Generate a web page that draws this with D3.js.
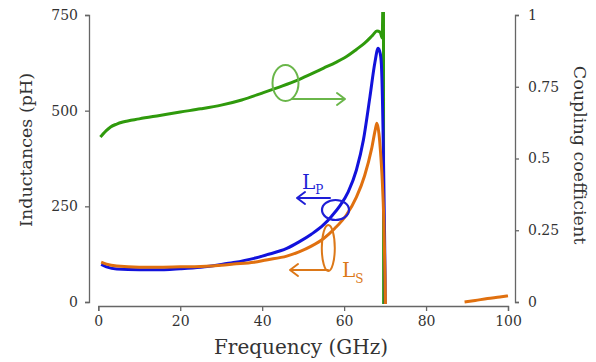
<!DOCTYPE html>
<html>
<head>
<meta charset="utf-8">
<script src="https://cdn.jsdelivr.net/npm/d3@7"></script>
<style>
  body { margin: 0; background: #fff; }
</style>
</head>
<body>
<div id="chart"></div>
<script>
// frequency (GHz) / inductance (pH) for primary coil Lp
var lpFreq = [0.7, 2, 4.5, 10, 14, 20, 25, 30, 33, 38, 41, 46, 49, 52, 55, 57, 59, 61, 63, 64.7, 66.3, 67.5, 68.3, 68.8, 69.1, 69.5, 69.8, 70.0, 70.1];
var lpValues = [98, 92, 86, 84, 84, 87, 91, 98, 103, 114, 123, 140, 157, 177, 202, 225, 252, 288, 345, 423, 536, 625, 663, 650, 620, 450, 230, 60, -100];

// secondary coil Ls (null = break in the line)
var lsFreq = [0.7, 2, 4.5, 10, 14, 20, 25, 30, 33, 38, 41, 46, 49, 52, 55, 57.7, 60.6, 63, 65, 66.7, 67.6, 68.0, 68.5, 68.9, 69.3, 69.7, 70.0, 70.2, 80, 89.4, 92, 95, 98, 100];
var lsValues = [104, 99, 94, 91, 91, 92, 93, 96, 99, 104, 110, 120, 131, 146, 166, 192, 228, 274, 330, 400, 450, 467, 440, 390, 320, 210, 60, -100, null, 0, 4, 9, 13, 16];

// coupling coefficient k (right axis)
var kFreq = [0.5, 1, 2, 3, 4.5, 6, 10, 15, 20, 25, 30, 35, 40, 44, 48.8, 52, 55, 58, 60, 63, 65, 67, 68, 68.8, 69.3, 69.6, 69.65];
var kValues = [0.575, 0.583, 0.598, 0.61, 0.62, 0.627, 0.638, 0.65, 0.662, 0.673, 0.686, 0.704, 0.728, 0.748, 0.774, 0.795, 0.815, 0.835, 0.85, 0.88, 0.902, 0.93, 0.944, 0.94, 0.92, 1.2, -0.2];

var xTicks = [0, 20, 40, 60, 80, 100];
var leftTicks = [0, 250, 500, 750];
var rightTicks = [0, 0.25, 0.5, 0.75, 1];

var width = 596, height = 362;
var svg = d3.select("#chart").append("svg")
  .attr("width", width).attr("height", height)
  .attr("font-family", "DejaVu Serif");

var x = d3.scaleLinear().domain([0, 100]).range([98.3, 508]);
var yL = d3.scaleLinear().domain([0, 750]).range([302, 15]);
var yR = d3.scaleLinear().domain([0, 1]).range([302, 15]);

var axisColor = "#666";

// axes
var gx = svg.append("g").attr("transform", "translate(0,306)")
  .call(d3.axisBottom(x).tickValues(xTicks).tickSize(5).tickPadding(5));
var gl = svg.append("g").attr("transform", "translate(89,0)")
  .call(d3.axisLeft(yL).tickValues(leftTicks).tickSize(4).tickPadding(7));
var gr = svg.append("g").attr("transform", "translate(515,0)")
  .call(d3.axisRight(yR).tickValues(rightTicks).tickFormat(function (d) { return d3.format("")(d); }).tickSize(4).tickPadding(9));

[gx, gl, gr].forEach(function (g) {
  g.attr("font-family", "DejaVu Serif");
  g.selectAll("path, line").attr("stroke", axisColor).attr("stroke-width", 1.3);
  g.selectAll("text").attr("font-size", 14).attr("fill", "#333");
});

// axis titles
svg.append("text").attr("transform", "translate(32,150) rotate(-90)")
  .attr("text-anchor", "middle").attr("font-size", 17.5).attr("fill", "#333").text("Inductances (pH)");
svg.append("text").attr("transform", "translate(574,155) rotate(90)")
  .attr("text-anchor", "middle").attr("font-size", 17.5).attr("fill", "#333").text("Coupling coefficient");
svg.append("text").attr("x", 301).attr("y", 354)
  .attr("text-anchor", "middle").attr("font-size", 20).attr("fill", "#333").text("Frequency (GHz)");

// clip the curves to the plot area
svg.append("clipPath").attr("id", "plotclip").append("rect")
  .attr("x", 95).attr("y", 12).attr("width", 418).attr("height", 292);

var plot = svg.append("g").attr("clip-path", "url(#plotclip)");

var kData = kFreq.map(function (f, i) { return [f, kValues[i]]; });
var lpData = lpFreq.map(function (f, i) { return [f, lpValues[i]]; });
var lsData = lsFreq.map(function (f, i) { return [f, lsValues[i]]; });

var kLine = d3.line().x(function (d) { return x(d[0]); }).y(function (d) { return yR(d[1]); }).curve(d3.curveMonotoneX);
var lLine = d3.line().defined(function (d) { return d[1] != null; })
  .x(function (d) { return x(d[0]); }).y(function (d) { return yL(d[1]); }).curve(d3.curveMonotoneX);

plot.append("path").datum(kData).attr("fill", "none").attr("stroke", "#2f9a0c")
  .attr("stroke-width", 3).attr("stroke-linejoin", "round").attr("d", kLine);
plot.append("path").datum(lpData).attr("fill", "none").attr("stroke", "#1212dc")
  .attr("stroke-width", 3).attr("stroke-linejoin", "round").attr("d", lLine);
plot.append("path").datum(lsData).attr("fill", "none").attr("stroke", "#e0700f")
  .attr("stroke-width", 3).attr("stroke-linejoin", "round").attr("d", lLine);

// annotations
function arrow(g, x1, x2, yy, color) {
  var dir = x2 > x1 ? -1 : 1;
  g.append("path")
    .attr("d", "M" + x1 + "," + yy + "H" + x2 +
      "M" + (x2 + dir * 8) + "," + (yy - 6) + "L" + x2 + "," + yy + "L" + (x2 + dir * 8) + "," + (yy + 6))
    .attr("fill", "none").attr("stroke", color).attr("stroke-width", 2)
    .attr("stroke-linecap", "round").attr("stroke-linejoin", "round");
}

var ann = svg.append("g");
var cK = "#6ab64a", cP = "#1e1ed6", cS = "#dc7818";

ann.append("ellipse").attr("cx", 285.5).attr("cy", 83).attr("rx", 13).attr("ry", 18)
  .attr("fill", "none").attr("stroke", cK).attr("stroke-width", 2);
arrow(ann, 292, 345, 99, cK);

ann.append("ellipse").attr("cx", 335.5).attr("cy", 210).attr("rx", 13.5).attr("ry", 10)
  .attr("fill", "none").attr("stroke", cP).attr("stroke-width", 2.2);
arrow(ann, 330, 297, 198, cP);
var tp = ann.append("text").attr("x", 302).attr("y", 189).attr("font-size", 20).attr("fill", cP);
tp.append("tspan").text("L");
tp.append("tspan").attr("dy", 5).attr("font-size", 12).text("P");

ann.append("ellipse").attr("cx", 328.3).attr("cy", 248).attr("rx", 6.5).attr("ry", 23)
  .attr("fill", "none").attr("stroke", cS).attr("stroke-width", 2);
arrow(ann, 328, 290, 270, cS);
var ts = ann.append("text").attr("x", 342).attr("y", 277).attr("font-size", 20).attr("fill", cS);
ts.append("tspan").text("L");
ts.append("tspan").attr("dy", 6).attr("font-size", 12).text("S");
</script>
</body>
</html>
